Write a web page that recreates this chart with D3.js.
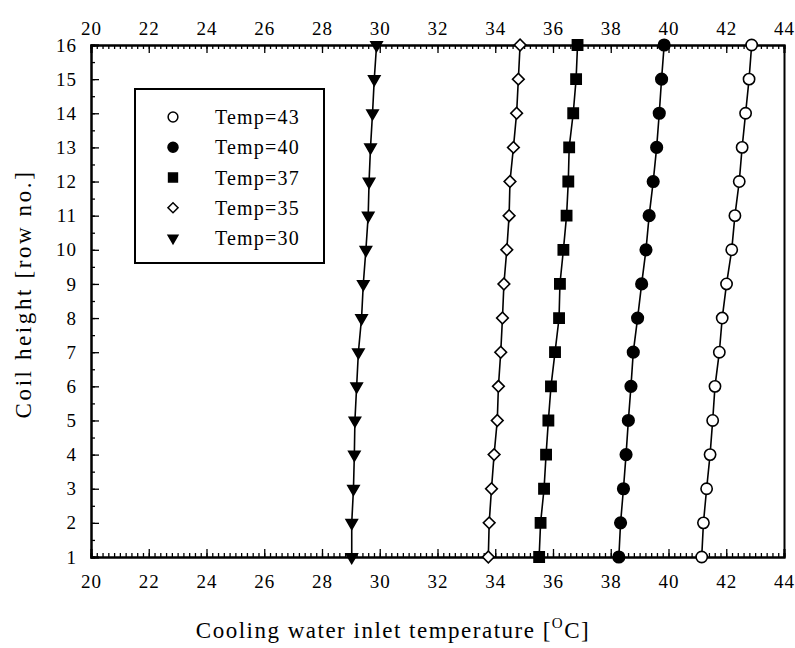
<!DOCTYPE html>
<html><head><meta charset="utf-8">
<script src="https://cdn.jsdelivr.net/npm/d3@7"></script>
<style>body{margin:0;background:#fff}svg{display:block}</style>
</head><body>
<script>
const rows = [1,2,3,4,5,6,7,8,9,10,11,12,13,14,15,16];
const temp43 = [41.15,41.21,41.32,41.44,41.53,41.61,41.76,41.86,42.01,42.19,42.30,42.45,42.55,42.67,42.79,42.88];
const temp40 = [38.28,38.34,38.44,38.53,38.61,38.70,38.78,38.93,39.07,39.22,39.33,39.47,39.59,39.68,39.76,39.85];
const temp37 = [35.52,35.57,35.69,35.76,35.84,35.93,36.07,36.21,36.24,36.36,36.47,36.53,36.56,36.70,36.80,36.85];
const temp35 = [33.76,33.79,33.87,33.96,34.07,34.11,34.19,34.25,34.30,34.40,34.48,34.51,34.63,34.74,34.80,34.86];
const temp30 = [29.03,29.03,29.09,29.12,29.14,29.20,29.26,29.37,29.43,29.52,29.60,29.63,29.68,29.75,29.81,29.89];
const seriesNames = ["Temp=43","Temp=40","Temp=37","Temp=35","Temp=30"];
const xTicks = [20,22,24,26,28,30,32,34,36,38,40,42,44];
const yTicks = rows;

const series = [
  {name: seriesNames[0], values: temp43, sym: d3.symbolCircle, fill: "#fff", rot: 0, size: 100},
  {name: seriesNames[1], values: temp40, sym: d3.symbolCircle, fill: "#000", rot: 0, size: 105},
  {name: seriesNames[2], values: temp37, sym: d3.symbolSquare, fill: "#000", rot: 0, size: 105},
  {name: seriesNames[3], values: temp35, sym: d3.symbolSquare, fill: "#fff", rot: 45, size: 68},
  {name: seriesNames[4], values: temp30, sym: d3.symbolTriangle, fill: "#000", rot: 180, size: 55}
];

const W = 795, H = 648;
const svg = d3.select("body").append("svg").attr("width", W).attr("height", H);
const font = "'Liberation Serif', 'DejaVu Serif', serif";

const x = d3.scaleLinear().domain([20,44]).range([91,784]);
const y = d3.scaleLinear().domain([1,16]).range([557,45]);

const minorX = d3.range(20, 44.001, 0.2).map(v => +v.toFixed(1));
const minorY = d3.range(1, 16.001, 0.5);

function styleAxis(g){
  g.select(".domain").attr("stroke","#000").attr("stroke-width",2);
  g.selectAll(".tick line").attr("stroke","#000").attr("stroke-width",1.3);
  g.selectAll(".tick text").attr("font-family",font).attr("font-size",19)
    .attr("letter-spacing",1).attr("fill","#000");
}

// minor ticks
svg.append("g").attr("transform",`translate(0,${y(1)})`)
  .call(d3.axisBottom(x).tickValues(minorX).tickSize(-4).tickFormat(""))
  .call(styleAxis);
svg.append("g").attr("transform",`translate(0,${y(16)})`)
  .call(d3.axisTop(x).tickValues(minorX).tickSize(-4).tickFormat(""))
  .call(styleAxis);
svg.append("g").attr("transform",`translate(${x(20)},0)`)
  .call(d3.axisLeft(y).tickValues(minorY).tickSize(-4).tickFormat(""))
  .call(styleAxis);

// major ticks
svg.append("g").attr("transform",`translate(0,${y(1)})`)
  .call(d3.axisBottom(x).tickValues(xTicks).tickSize(-8).tickPadding(18).tickFormat(d3.format("d")))
  .call(styleAxis);
svg.append("g").attr("transform",`translate(0,${y(16)})`)
  .call(d3.axisTop(x).tickValues(xTicks).tickSize(-8).tickPadding(10).tickFormat(d3.format("d")))
  .call(styleAxis);
svg.append("g").attr("transform",`translate(${x(20)},0)`)
  .call(d3.axisLeft(y).tickValues(yTicks).tickSize(-8).tickPadding(14).tickFormat(d3.format("d")))
  .call(styleAxis);
// right border
svg.append("g").attr("transform",`translate(${x(44)},0)`)
  .call(d3.axisRight(y).tickValues([]).tickSizeOuter(0))
  .call(styleAxis);

// lines
const line = d3.line().x(d => x(d[0])).y(d => y(d[1]));
series.forEach(s => {
  const pts = s.values.map((v,i) => [v, rows[i]]);
  svg.append("path").datum(pts).attr("d", line).attr("fill","none").attr("stroke","#000").attr("stroke-width",1.6);
});
series.forEach(s => {
  const pts = s.values.map((v,i) => [v, rows[i]]);
  svg.append("g").selectAll("path").data(pts).join("path")
    .attr("d", d3.symbol().type(s.sym).size(s.size))
    .attr("transform", d => `translate(${x(d[0])},${y(d[1])}) rotate(${s.rot})`)
    .attr("fill", s.fill).attr("stroke","#000").attr("stroke-width",1.6);
});

// legend
const lg = svg.append("g");
lg.append("rect").attr("x",135).attr("y",89).attr("width",189).attr("height",174)
  .attr("fill","#fff").attr("stroke","#000").attr("stroke-width",2);
const ly = d3.scalePoint().domain(seriesNames).range([117,238]);
series.forEach(s => {
  lg.append("path").attr("d", d3.symbol().type(s.sym).size(s.size*0.75))
    .attr("transform", `translate(173,${ly(s.name)}) rotate(${s.rot})`)
    .attr("fill", s.fill).attr("stroke","#000").attr("stroke-width",1.5);
  lg.append("text").attr("x",215).attr("y",ly(s.name)).attr("dy","0.35em")
    .attr("font-family",font).attr("font-size",20).attr("letter-spacing",1.2).text(s.name);
});

// axis titles
const xt = svg.append("text").attr("x",393).attr("y",638).attr("text-anchor","middle")
  .attr("font-family",font).attr("font-size",23).attr("letter-spacing",1.5);
xt.append("tspan").text("Cooling water inlet temperature [");
xt.append("tspan").attr("font-size",15).attr("dy",-10).text("O");
xt.append("tspan").attr("dy",10).text("C]");

svg.append("text").attr("transform","translate(31,294) rotate(-90)").attr("text-anchor","middle")
  .attr("font-family",font).attr("font-size",23).attr("letter-spacing",2.6).text("Coil height [row no.]");
</script>
</body></html>
